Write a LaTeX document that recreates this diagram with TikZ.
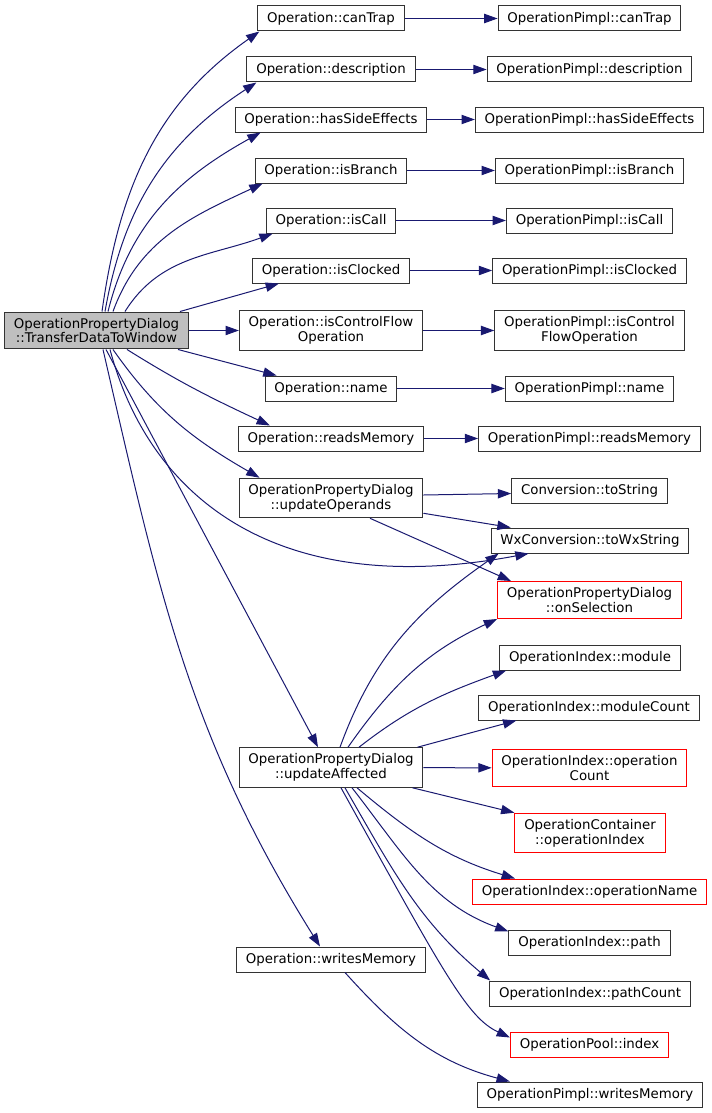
\documentclass[tikz,border=0pt]{standalone}
\usepackage{fontspec}
\setmainfont{DejaVu Sans}
\usepackage{xcolor}
\usetikzlibrary{positioning,calc,arrows.meta}
\definecolor{edgeblue}{HTML}{191970}

\begin{document}
\begin{tikzpicture}[x=0.75pt, y=-0.75pt,
    fn/.style={draw=black!80, line width=0.75pt, fill=white, inner xsep=7pt, inner ysep=4.5pt,
        minimum height=18.75pt, align=center, font=\fontsize{10}{11}\selectfont},
    caller/.style={fn, fill=black!25},
    missing/.style={fn, draw=red},
    call/.style={edgeblue, line width=0.75pt, -{Triangle[length=10pt,width=7pt]}}]
    \useasboundingbox (0,0) rectangle (711,1113);

    % Caller
    \node[caller] (xfer) at (96.5,330.5) {OperationPropertyDialog\\::TransferDataToWindow};

    % Operation members
    \node[fn] (opCanTrap) at (331,18.5) {Operation::canTrap};
    \node[fn] (opDesc) at (331,69.5) {Operation::description};
    \node[fn] (opSide) at (331,119.5) {Operation::hasSideEffects};
    \node[fn] (opBranch) at (331,170.5) {Operation::isBranch};
    \node[fn] (opCall) at (331,220.5) {Operation::isCall};
    \node[fn] (opClocked) at (331,270.5) {Operation::isClocked};
    \node[fn] (opCtrl) at (331,330.5) {Operation::isControlFlow\\Operation};
    \node[fn] (opName) at (331,388.5) {Operation::name};
    \node[fn] (opReads) at (331,438.5) {Operation::readsMemory};
    \node[fn] (updOperands) at (331,498) {OperationPropertyDialog\\::updateOperands};
    \node[fn] (updAffected) at (331,767.5) {OperationPropertyDialog\\::updateAffected};
    \node[fn] (opWrites) at (331,959.5) {Operation::writesMemory};

    % Pimpl members
    \node[fn] (pCanTrap) at (589.5,18.5) {OperationPimpl::canTrap};
    \node[fn] (pDesc) at (589.5,69.5) {OperationPimpl::description};
    \node[fn] (pSide) at (589.5,119.5) {OperationPimpl::hasSideEffects};
    \node[fn] (pBranch) at (589.5,170.5) {OperationPimpl::isBranch};
    \node[fn] (pCall) at (589.5,220.5) {OperationPimpl::isCall};
    \node[fn] (pClocked) at (589.5,270.5) {OperationPimpl::isClocked};
    \node[fn] (pCtrl) at (589.5,330.5) {OperationPimpl::isControl\\FlowOperation};
    \node[fn] (pName) at (589.5,388.5) {OperationPimpl::name};
    \node[fn] (pReads) at (589.5,438.5) {OperationPimpl::readsMemory};

    % Helpers used by the update methods
    \node[fn] (toStr) at (589.5,490.5) {Conversion::toString};
    \node[fn] (toWx) at (590,540.5) {WxConversion::toWxString};
    \node[missing] (onSel) at (589.5,600) {OperationPropertyDialog\\::onSelection};
    \node[fn] (idxModule) at (590,657.5) {OperationIndex::module};
    \node[fn] (idxModCount) at (589,707.5) {OperationIndex::moduleCount};
    \node[missing] (idxOpCount) at (589.5,768) {OperationIndex::operation\\Count};
    \node[missing] (contIndex) at (590,833) {OperationContainer\\::operationIndex};
    \node[missing] (idxOpName) at (589.5,891.5) {OperationIndex::operationName};
    \node[fn] (idxPath) at (589.5,942.5) {OperationIndex::path};
    \node[fn] (idxPathCount) at (590,993.5) {OperationIndex::pathCount};
    \node[missing] (poolIndex) at (589.5,1044.5) {OperationPool::index};
    \node[fn] (pWrites) at (590,1094.5) {OperationPimpl::writesMemory};

    % Calls out of the caller
    \draw[call] ($(xfer.north)+(5.5,0)$) to[out=82,in=215] ($(opCanTrap.south west)+(2,0)$);
    \draw[call] ($(xfer.north)+(8.5,0)$) to[out=80,in=213] ($(opDesc.south west)+(10,0)$);
    \draw[call] ($(xfer.north)+(11.5,0)$) to[out=76,in=209] ($(opSide.south west)+(26,0)$);
    \draw[call] ($(xfer.north)+(16.5,0)$) to[out=70,in=205] ($(opBranch.south west)+(8,0)$);
    \draw[call] ($(xfer.north)+(28.5,0)$) to[out=58,in=200] ($(opCall.south west)+(7,0)$);
    \draw[call] ($(xfer.north)+(83.5,0)$) -- ($(opClocked.south west)+(27,0)$);
    \draw[call] (xfer) -- (opCtrl);
    \draw[call] ($(xfer.south)+(81.5,0)$) -- ($(opName.north west)+(12,0)$);
    \draw[call] ($(xfer.south)+(30.5,0)$) to[out=-32,in=155] ($(opReads.north west)+(32,0)$);
    \draw[call] ($(xfer.south)+(16.5,0)$) to[out=-55,in=150] ($(updOperands.north west)+(21,0)$);
    \draw[call] ($(xfer.south)+(13.5,0)$) .. controls +(40,150) and +(-250,47) .. ($(toWx.south west)+(38,0)$);
    \draw[call] ($(xfer.south)+(9.5,0)$) -- ($(updAffected.north)+(-13,0)$);
    \draw[call] ($(xfer.south)+(6.5,0)$) to[out=-77,in=122] ($(opWrites.north)+(-11,0)$);

    % Operation to pimpl
    \draw[call] (opCanTrap) -- (pCanTrap);
    \draw[call] (opDesc) -- (pDesc);
    \draw[call] (opSide) -- (pSide);
    \draw[call] (opBranch) -- (pBranch);
    \draw[call] (opCall) -- (pCall);
    \draw[call] (opClocked) -- (pClocked);
    \draw[call] (opCtrl) -- (pCtrl);
    \draw[call] (opName) -- (pName);
    \draw[call] (opReads) -- (pReads);
    \draw[call] ($(opWrites.south)+(14,0)$) to[out=-48,in=165] ($(pWrites.north west)+(33,0)$);

    % updateOperands
    \draw[call] ($(updOperands.east)+(0,-3)$) -- ($(toStr.west)+(0,3)$);
    \draw[call] ($(updOperands.south east)+(0,-5)$) -- ($(toWx.north west)+(20,0)$);
    \draw[call] ($(updOperands.south)+(39,0)$) -- ($(onSel.north west)+(14,0)$);

    % updateAffected
    \draw[call] ($(updAffected.north)+(9,0)$) to[out=70,in=215] ($(toWx.south west)+(8,0)$);
    \draw[call] ($(updAffected.north)+(17,0)$) to[out=55,in=205] (onSel.south west);
    \draw[call] ($(updAffected.north)+(28,0)$) to[out=38,in=200] ($(idxModule.south west)+(7,0)$);
    \draw[call] ($(updAffected.north east)+(-6,0)$) -- ($(idxModCount.south west)+(38,0)$);
    \draw[call] (updAffected) -- (idxOpCount);
    \draw[call] ($(updAffected.south east)+(-11,0)$) -- (contIndex.north west);
    \draw[call] ($(updAffected.south)+(26,0)$) to[out=-40,in=163] ($(idxOpName.north west)+(43,0)$);
    \draw[call] ($(updAffected.south)+(21,0)$) to[out=-52,in=160] ($(idxPath.north west)+(0,2)$);
    \draw[call] ($(updAffected.south)+(14,0)$) to[out=-60,in=140] ($(idxPathCount.north west)+(1,0)$);
    \draw[call] ($(updAffected.south)+(10,0)$) to[out=-61,in=155,out looseness=1.8,in looseness=0.4] ($(poolIndex.west)+(0,-7)$);
\end{tikzpicture}
\end{document}
